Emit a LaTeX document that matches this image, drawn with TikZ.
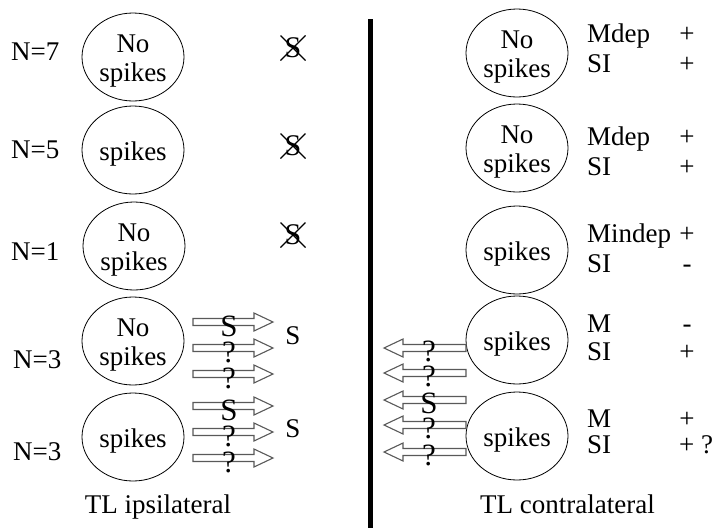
\documentclass[tikz,border=0pt]{standalone}
\usepackage{fontspec}
\setmainfont{Liberation Serif}
\usetikzlibrary{shapes.geometric}
\begin{document}
\begin{tikzpicture}[x=1pt,y=-1pt,
  every node/.style={font=\fontsize{27}{29}\selectfont, inner sep=0pt},
  ell/.style={draw, line width=0.8pt, ellipse, minimum width=102pt, minimum height=88pt},
  txt/.style={align=center, yshift=-4pt},
  big/.style={font=\fontsize{31}{31}\selectfont},
  arr/.style={draw=black!65, line width=1.1pt, fill=white},
  rarrow/.pic={\draw[arr] (0,-3.5) -- (61,-3.5) -- (61,-9) -- (80,0) -- (61,9) -- (61,3.5) -- (0,3.5) -- cycle;},
  larrow/.pic={\draw[arr] (0,0) -- (19,-9) -- (19,-3.5) -- (82,-3.5) -- (82,3.5) -- (19,3.5) -- (19,9) -- cycle;},
  xs/.pic={\node[font=\fontsize{30}{30}\selectfont] (-s) at (0,0) {S};
           \draw[line width=1.1pt] (-12.5,-12.5) -- (12.5,12.5) (-12.5,12.5) -- (12.5,-12.5);}
]
\path[use as bounding box] (0,0) rectangle (715,528);

% divider
\draw[line width=5pt] (370,19) -- (370,528);

% left N labels
\node[anchor=west] (n1) at (11,52) {N=7};
\node[anchor=west] (n2) at (11,150) {N=5};
\node[anchor=west] (n3) at (11,252) {N=1};
\node[anchor=west] (n4) at (13,360) {N=3};
\node[anchor=west] (n5) at (13,452) {N=3};

% left ellipses
\node[ell] (L1) at (133,57) {};
\node[txt] (L1t) at (L1.center) {No\\spikes};
\node[ell] (L2) at (133,150) {};
\node[txt] (L2t) at (L2.center) {spikes};
\node[ell] (L3) at (134,246) {};
\node[txt] (L3t) at (L3.center) {No\\spikes};
\node[ell] (L4) at (133,341) {};
\node[txt] (L4t) at (L4.center) {No\\spikes};
\node[ell] (L5) at (133,437) {};
\node[txt] (L5t) at (L5.center) {spikes};

% crossed S
\pic (x1) at (293,48) {xs};
\pic (x2) at (293,146) {xs};
\pic (x3) at (293,235) {xs};

% left arrows
\foreach \y/\t [count=\i] in {322/S,348/?,374/?,406/S,432/?,458/?}{
  \pic (la\i) at (193,\y) {rarrow};
  \node[big] (lat\i) at (229,\y+4) {\t};
}
\node (S1) at (293,336) {S};
\node (S2) at (293,429) {S};

% right ellipses
\node[ell] (R1) at (517,53) {};
\node[txt] (R1t) at (R1.center) {No\\spikes};
\node[ell] (R2) at (517,148) {};
\node[txt] (R2t) at (R2.center) {No\\spikes};
\node[ell] (R3) at (517,250) {};
\node[txt] (R3t) at (R3.center) {spikes};
\node[ell] (R4) at (517,340) {};
\node[txt] (R4t) at (R4.center) {spikes};
\node[ell] (R5) at (517,436) {};
\node[txt] (R5t) at (R5.center) {spikes};

% right arrows
\foreach \y/\t [count=\i] in {348/?,373/?,400/S,425/?,452/?}{
  \pic (ra\i) at (384,\y) {larrow};
  \node[big] (rat\i) at (429,\y+3) {\t};
}

% right text
\foreach \a/\b/\c/\d/\e/\f [count=\i] in {Mdep/+/SI/+/42/72, Mdep/+/SI/+/145/175, Mindep/+/SI/-/242/272, M/-/SI/+/332/360}{
  \node[anchor=base west] (m\i) at (587,\e) {\a};
  \node[anchor=base] (ms\i) at (687,\e) {\b};
  \node[anchor=base west] (s\i) at (587,\f) {\c};
  \node[anchor=base] (ss\i) at (687,\f) {\d};
}
\node[anchor=base west] (m5) at (587,427) {M};
\node[anchor=base] (ms5) at (687,427) {+};
\node[anchor=base west] (s5) at (587,453) {SI};
\node[anchor=base west] (ss5) at (679,453) {+ ?};

% bottom labels
\node[anchor=base] (ipsi) at (158,513) {TL ipsilateral};
\node[anchor=base west] (contra) at (480,513) {TL contralateral};
\end{tikzpicture}
\end{document}
